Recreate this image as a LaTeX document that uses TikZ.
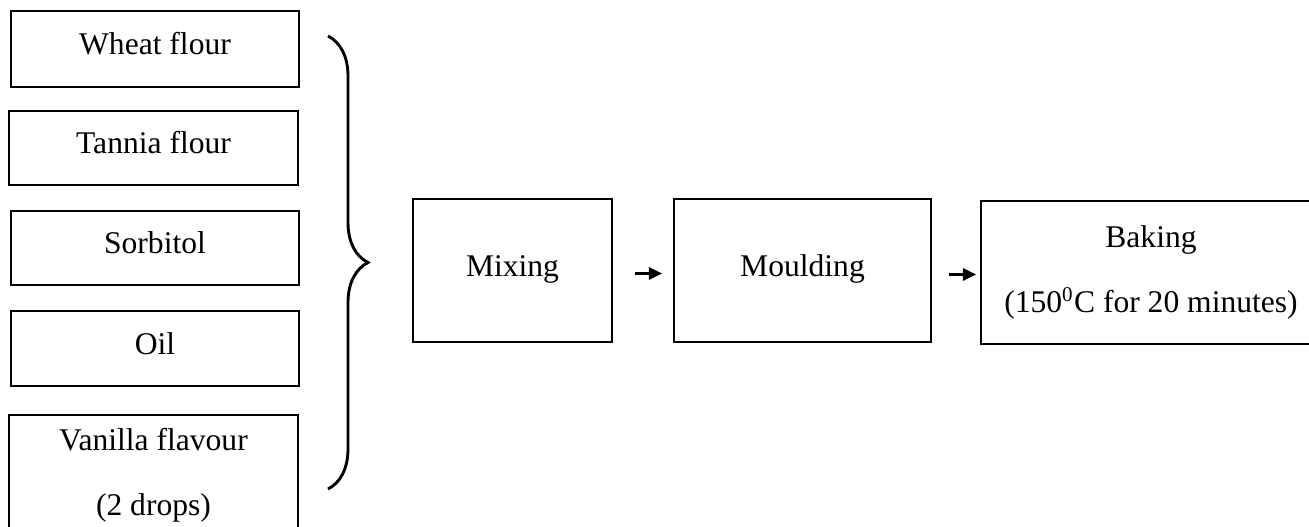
\documentclass[tikz,border=0pt]{standalone}
\usepackage{fontspec}
\setmainfont{Liberation Serif}
\usetikzlibrary{decorations.pathreplacing,arrows.meta}
\begin{document}
\begin{tikzpicture}[x=0.38pt,y=-0.38pt,
  box/.style={rectangle,draw,line width=0.7pt,font=\fontsize{12}{24.7}\selectfont,align=center},
  oneline/.style={text height=8.2pt,text depth=3.8pt},
  flow/.style={-{Triangle[length=5pt,width=4.6pt]},line width=1pt}]
\useasboundingbox (0,0) rectangle (1309,526);
% ingredients
\node[box,oneline,minimum width=288*0.38pt,minimum height=76*0.38pt] (wheat) at (155,49) {Wheat flour};
\node[box,oneline,minimum width=289*0.38pt,minimum height=74*0.38pt] (tannia) at (153.5,148) {Tannia flour};
\node[box,oneline,minimum width=288*0.38pt,minimum height=74*0.38pt] (sorbitol) at (155,248) {Sorbitol};
\node[box,oneline,minimum width=288*0.38pt,minimum height=75*0.38pt] (oil) at (155,348.5) {Oil};
\node[box,anchor=north,minimum width=289*0.38pt,minimum height=121*0.38pt] (vanilla) at (153.5,414) {Vanilla flavour\\(2 drops)};
% brace
\coordinate (btop) at (328,36);
\coordinate (bbot) at (328,489);
\draw[decorate,decoration={brace,amplitude=15.2pt},line width=1.1pt] (btop) -- (bbot);
% process
\node[box,oneline,minimum width=199*0.38pt,minimum height=143*0.38pt] (mix) at (512.5,270.5) {Mixing};
\node[box,oneline,minimum width=257*0.38pt,minimum height=143*0.38pt] (mould) at (802.5,270.5) {Moulding};
\node[box,minimum width=340*0.38pt,minimum height=143*0.38pt] (bake) at (1151,272.5) {Baking\\(150\textsuperscript{0}C for 20 minutes)};
\draw[flow,shorten <=22*0.38pt,shorten >=11*0.38pt] ([yshift=-3*0.38pt]mix.east) -- ([yshift=-3*0.38pt]mould.west);
\draw[flow,shorten <=17*0.38pt,shorten >=4*0.38pt] ([yshift=-4*0.38pt]mould.east) -- ([yshift=-2*0.38pt]bake.west);
\end{tikzpicture}
\end{document}
